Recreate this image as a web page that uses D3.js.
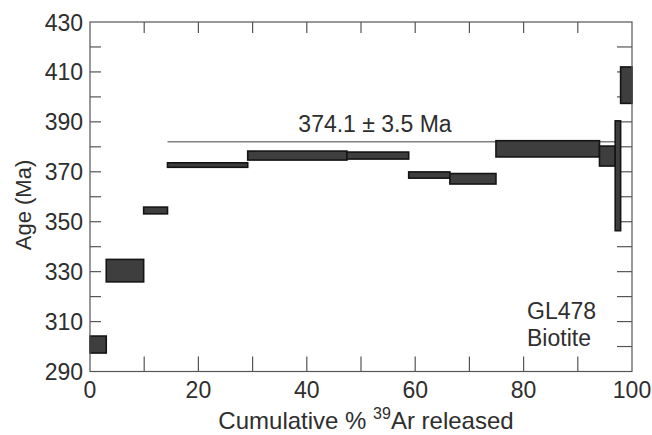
<!DOCTYPE html>
<meta charset="utf-8">
<head>
    <title>Ar-Ar age spectrum</title>
</head>
<style>
    body { margin: 0; background: #fff; }
    text { font-family: "Liberation Sans", Arial, sans-serif; fill: #2e2e2e; }
    .frame { fill: none; stroke: #555; stroke-width: 1.2; }
    .tick { stroke: #555; stroke-width: 1.2; }
    .step { fill: #3e3e3e; stroke: #141414; stroke-width: 1.6; }
</style>
<body>
    <svg width="652" height="435"></svg>

    <script src="https://cdnjs.cloudflare.com/ajax/libs/d3/7.8.5/d3.min.js"></script>
    <script>
        // cumulative % 39Ar at the start and end of each heating step
        var stepStart = [0, 3.0, 9.9, 14.3, 29.1, 47.4, 58.8, 66.4, 74.9, 94.0, 96.9, 97.9]
        var stepEnd = [3.0, 9.9, 14.3, 29.1, 47.4, 58.8, 66.4, 74.9, 94.0, 96.9, 97.9, 100]
        // apparent age (Ma) and error of each step
        var stepAge = [300.8, 330.4, 354.5, 372.7, 376.5, 376.5, 368.7, 367.2, 379.2, 376.3, 368.4, 404.7]
        var stepErr = [3.4, 4.5, 1.35, 0.9, 1.8, 1.4, 1.25, 2.1, 3.25, 4.0, 22.0, 7.3]

        var plateauFrom = 14.3, plateauTo = 96.9, plateauLine = 382.0
        var plateauLabel = '374.1 \u00b1 3.5 Ma'

        var xTicks = [0, 20, 40, 60, 80, 100]
        var yTicks = [290, 310, 330, 350, 370, 390, 410, 430]

        var svg = d3.select('svg')
        // note: "top" is reserved on window, so use pTop etc.
        var pLeft = 90, pRight = 632, pTop = 22, pBottom = 371.5

        var x = d3.scaleLinear().domain([0, 100]).range([pLeft, pRight])
        var y = d3.scaleLinear().domain([290, 430]).range([pBottom, pTop])

        // minor ticks every 10 on every side, pointing inward
        var xMinor = d3.range(10, 100, 10)
        var yMinor = d3.range(300, 430, 10)
        var g = svg.append('g')
        xMinor.forEach(function (v) {
            g.append('line').attr('class', 'tick')
                .attr('x1', x(v)).attr('x2', x(v)).attr('y1', pBottom).attr('y2', pBottom - 15)
            g.append('line').attr('class', 'tick')
                .attr('x1', x(v)).attr('x2', x(v)).attr('y1', pTop).attr('y2', pTop + 11)
        })
        yMinor.forEach(function (v) {
            g.append('line').attr('class', 'tick')
                .attr('x1', pLeft).attr('x2', pLeft + 11).attr('y1', y(v)).attr('y2', y(v))
            g.append('line').attr('class', 'tick')
                .attr('x1', pRight).attr('x2', pRight - 15).attr('y1', y(v)).attr('y2', y(v))
        })

        // plateau line
        svg.append('line')
            .attr('x1', x(plateauFrom)).attr('x2', x(plateauTo))
            .attr('y1', y(plateauLine)).attr('y2', y(plateauLine))
            .attr('stroke', '#444').attr('stroke-width', 1)

        // heating steps
        svg.selectAll('rect.step')
            .data(stepAge)
            .enter()
            .append('rect')
            .attr('class', 'step')
            .attr('x', function (d, i) { return x(stepStart[i]) })
            .attr('width', function (d, i) { return x(stepEnd[i]) - x(stepStart[i]) })
            .attr('y', function (d, i) { return y(d + stepErr[i]) })
            .attr('height', function (d, i) { return y(d - stepErr[i]) - y(d + stepErr[i]) })

        svg.append('rect').attr('class', 'frame')
            .attr('x', pLeft).attr('y', pTop)
            .attr('width', pRight - pLeft).attr('height', pBottom - pTop)

        // tick labels
        svg.selectAll('text.xl')
            .data(xTicks)
            .enter()
            .append('text')
            .attr('x', function (d) { return x(d) })
            .attr('y', 398)
            .attr('text-anchor', 'middle')
            .style('font-size', '23px')
            .text(function (d) { return d })

        svg.selectAll('text.yl')
            .data(yTicks)
            .enter()
            .append('text')
            .attr('x', 83)
            .attr('y', function (d) { return y(d) + 8.5 })
            .attr('text-anchor', 'end')
            .style('font-size', '23px')
            .text(function (d) { return d })

        // axis titles
        var xt = svg.append('text')
            .attr('x', 366).attr('y', 429)
            .attr('text-anchor', 'middle')
            .style('font-size', '24px')
        xt.append('tspan').text('Cumulative %  ')
        xt.append('tspan').attr('dy', -10).style('font-size', '16px').text('39')
        xt.append('tspan').attr('dy', 10).text('Ar released')

        svg.append('text')
            .attr('transform', 'translate(31,205) rotate(-90)')
            .attr('text-anchor', 'middle')
            .style('font-size', '22px')
            .text('Age (Ma)')

        svg.append('text')
            .attr('x', 375).attr('y', 132)
            .attr('text-anchor', 'middle')
            .style('font-size', '23px')
            .text(plateauLabel)

        svg.append('text').attr('x', 527).attr('y', 319)
            .style('font-size', '23px').text('GL478')
        svg.append('text').attr('x', 527).attr('y', 346)
            .style('font-size', '23px').text('Biotite')
    </script>
</body>
</html>
